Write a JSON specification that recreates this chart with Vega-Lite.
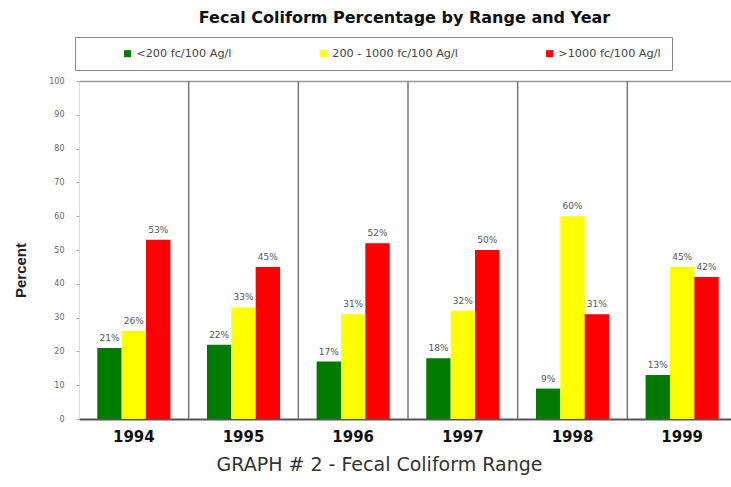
{
  "$schema": "https://vega.github.io/schema/vega-lite/v6.json",
  "width": 651,
  "height": 338,
  "autosize": {"type": "none"},
  "padding": {"left": 79, "top": 81, "right": 1, "bottom": 68},
  "background": "white",
  "config": {"view": {"stroke": null}},
  "title": {
    "text": "Fecal Coliform Percentage by Range and Year",
    "font": "DejaVu Sans",
    "fontSize": 16,
    "fontWeight": "bold",
    "color": "#111",
    "anchor": "middle",
    "frame": "group",
    "offset": 11
  },
  "datasets": {
    "bars": [
      {"year": "1994", "range": "<200 fc/100 Ag/l", "pct": 21, "label": "21%"},
      {"year": "1994", "range": "200 - 1000 fc/100 Ag/l", "pct": 26, "label": "26%"},
      {"year": "1994", "range": ">1000 fc/100 Ag/l", "pct": 53, "label": "53%"},
      {"year": "1995", "range": "<200 fc/100 Ag/l", "pct": 22, "label": "22%"},
      {"year": "1995", "range": "200 - 1000 fc/100 Ag/l", "pct": 33, "label": "33%"},
      {"year": "1995", "range": ">1000 fc/100 Ag/l", "pct": 45, "label": "45%"},
      {"year": "1996", "range": "<200 fc/100 Ag/l", "pct": 17, "label": "17%"},
      {"year": "1996", "range": "200 - 1000 fc/100 Ag/l", "pct": 31, "label": "31%"},
      {"year": "1996", "range": ">1000 fc/100 Ag/l", "pct": 52, "label": "52%"},
      {"year": "1997", "range": "<200 fc/100 Ag/l", "pct": 18, "label": "18%"},
      {"year": "1997", "range": "200 - 1000 fc/100 Ag/l", "pct": 32, "label": "32%"},
      {"year": "1997", "range": ">1000 fc/100 Ag/l", "pct": 50, "label": "50%"},
      {"year": "1998", "range": "<200 fc/100 Ag/l", "pct": 9, "label": "9%"},
      {"year": "1998", "range": "200 - 1000 fc/100 Ag/l", "pct": 60, "label": "60%"},
      {"year": "1998", "range": ">1000 fc/100 Ag/l", "pct": 31, "label": "31%"},
      {"year": "1999", "range": "<200 fc/100 Ag/l", "pct": 13, "label": "13%"},
      {"year": "1999", "range": "200 - 1000 fc/100 Ag/l", "pct": 45, "label": "45%"},
      {"year": "1999", "range": ">1000 fc/100 Ag/l", "pct": 42, "label": "42%"}
    ],
    "separators": [
      {"year": "1995"}, {"year": "1996"}, {"year": "1997"}, {"year": "1998"}, {"year": "1999"}
    ]
  },
  "resolve": {"axis": {"x": "independent"}},
  "layer": [
    {
      "data": {"name": "bars"},
      "mark": {"type": "bar"},
      "encoding": {
        "x": {
          "field": "year", "type": "nominal",
          "scale": {"domain": ["1994", "1995", "1996", "1997", "1998", "1999"], "range": [0, 658], "paddingInner": 0, "paddingOuter": 0},
          "axis": {
            "orient": "bottom",
            "title": "GRAPH # 2 - Fecal Coliform Range",
            "titleFont": "DejaVu Sans",
            "titleFontSize": 19,
            "titleFontWeight": "normal",
            "titleColor": "#333",
            "titlePadding": 11,
            "titleX": 300,
            "labelFont": "DejaVu Sans",
            "labelFontSize": 15,
            "labelFontWeight": "bold",
            "labelColor": "#111",
            "labelAngle": 0,
            "labelPadding": 10,
            "ticks": false,
            "domainColor": "#555",
            "domainWidth": 2
          }
        },
        "xOffset": {
          "field": "range", "type": "nominal",
          "sort": ["<200 fc/100 Ag/l", "200 - 1000 fc/100 Ag/l", ">1000 fc/100 Ag/l"],
          "scale": {"paddingOuter": 0.75, "paddingInner": 0}
        },
        "y": {
          "field": "pct", "type": "quantitative",
          "scale": {"domain": [0, 100]},
          "axis": {
            "title": "Percent",
            "titleFont": "Liberation Sans",
            "titleFontSize": 15,
            "titleFontWeight": "bold",
            "titleColor": "#222",
            "titlePadding": 20,
            "titleY": 189,
            "values": [0, 10, 20, 30, 40, 50, 60, 70, 80, 90, 100],
            "labelOverlap": false,
            "labelFont": "DejaVu Sans",
            "labelFontSize": 8,
            "labelColor": "#666",
            "labelPadding": 12,
            "tickSize": 3,
            "tickColor": "#aaa",
            "domainColor": "#bbb",
            "domainDash": [1, 1],
            "grid": false
          }
        },
        "color": {
          "field": "range", "type": "nominal",
          "sort": ["<200 fc/100 Ag/l", "200 - 1000 fc/100 Ag/l", ">1000 fc/100 Ag/l"],
          "scale": {"domain": ["<200 fc/100 Ag/l", "200 - 1000 fc/100 Ag/l", ">1000 fc/100 Ag/l"], "range": ["#007a00", "#ffff00", "#ff0000"]},
          "legend": {
            "orient": "none",
            "legendX": -4,
            "legendY": -44,
            "direction": "horizontal",
            "title": null,
            "symbolOffset": 36,
            "labelFont": "DejaVu Sans",
            "labelFontSize": 11.25,
            "labelColor": "#444",
            "labelOffset": 3,
            "symbolType": "square",
            "symbolSize": 50,
            "symbolStrokeWidth": 0,
            "columnPadding": 50,
            "padding": 11,
            "strokeColor": "#888",
            "fillColor": "white"
          }
        }
      }
    },
    {
      "data": {"name": "bars"},
      "mark": {"type": "text", "baseline": "bottom", "dy": -5, "font": "DejaVu Sans", "fontSize": 9, "color": "#555"},
      "encoding": {
        "x": {"field": "year", "type": "nominal", "axis": null},
        "xOffset": {"field": "range", "type": "nominal", "sort": ["<200 fc/100 Ag/l", "200 - 1000 fc/100 Ag/l", ">1000 fc/100 Ag/l"]},
        "y": {
          "field": "pct", "type": "quantitative",
          "axis": {
            "title": "Percent",
            "titleFont": "Liberation Sans",
            "titleFontSize": 15,
            "titleFontWeight": "bold",
            "titleColor": "#222",
            "titlePadding": 20,
            "titleY": 189,
            "values": [0, 10, 20, 30, 40, 50, 60, 70, 80, 90, 100],
            "labelOverlap": false,
            "labelFont": "DejaVu Sans",
            "labelFontSize": 8,
            "labelColor": "#666",
            "labelPadding": 12,
            "tickSize": 3,
            "tickColor": "#aaa",
            "domainColor": "#bbb",
            "domainDash": [1, 1],
            "grid": false
          }
        },
        "text": {"field": "label", "type": "nominal"}
      }
    },
    {
      "data": {"name": "separators"},
      "mark": {"type": "rule", "color": "#777", "strokeWidth": 1.5},
      "encoding": {
        "x": {
          "field": "year", "type": "nominal", "bandPosition": 0,
          "axis": {"orient": "top", "title": null, "labels": false, "ticks": false, "domain": true, "domainColor": "#999", "domainWidth": 1.5}
        }
      }
    }
  ]
}
